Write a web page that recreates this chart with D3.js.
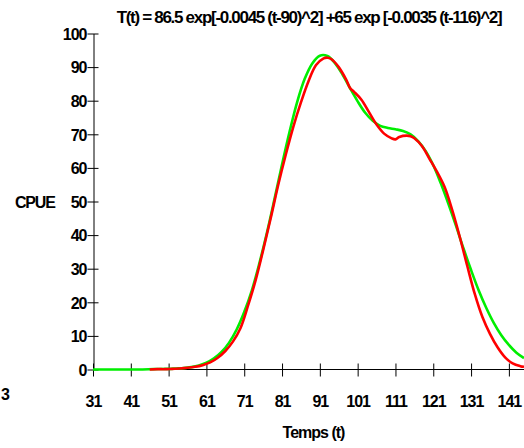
<!DOCTYPE html>
<html><head><meta charset="utf-8">
<script src="https://cdn.jsdelivr.net/npm/d3@7"></script>
<style>body{margin:0;background:#fff}svg{display:block}text{font-family:"Liberation Sans",Arial,sans-serif;font-weight:bold;fill:#000}</style>
</head><body><svg id="c" width="524" height="448"></svg>
<script>
const titleText = "T(t) = 86.5 exp[-0.0045 (t-90)^2] +65 exp [-0.0035 (t-116)^2]";
const xLabel = "Temps (t)";
const yLabel = "CPUE";
const xTicks = [31,41,51,61,71,81,91,101,111,121,131,141];
const yTicks = [0,10,20,30,40,50,60,70,80,90,100];

// Model curve (green)
const modelT = [31,35,39,43,47,51,53,55,57,59,61,63,65,67,69,71,73,75,77,79,81,83,85,87,89,91,93,95,97,99,101,103,105,107,109,111,113,115,117,119,121,123,125,127,129,131,133,135,137,139,141,143,145];
const modelV = [0,0,0,0,0.1,0.2,0.3,0.4,0.7,1.2,2.0,3.3,5.2,8.0,11.9,17.1,23.5,31.6,40.7,50.7,61.0,70.8,79.6,86.5,91.1,93.4,93.3,91.2,87.8,83.7,79.8,76.4,74.0,72.5,71.9,71.5,71.0,70.0,68.0,65.0,60.8,55.4,49.3,42.8,36.0,29.6,23.6,18.4,13.9,10.2,7.3,5.0,3.4];

// Observed curve (red)
const obsT = [46,48,50,52,54,56,58,60,62,64,66,68,70,72,74,76,78,80,82,84,86,88,90,92,93,94,96,98,99,100,102,104,106,108,110,111,112,114,115,116,118,120,122,124,126,128,130,132,134,136,138,140,142,144,145];
const obsV = [0,0.1,0.1,0.2,0.3,0.5,0.8,1.3,2.1,3.5,5.5,8.3,12.3,19.0,26.5,35.5,45.0,55.0,64.0,72.3,79.5,85.8,90.6,92.6,92.8,92.4,90.0,86.2,83.8,82.7,80.3,76.6,72.9,70.2,68.8,68.5,69.2,69.6,69.4,68.8,66.5,62.7,58.8,54.3,47.5,39.5,30.8,22.4,15.6,10.6,6.6,3.6,1.8,1.0,0.8];

const svg = d3.select("#c");
const x = d3.scaleLinear().domain([31,145]).range([93,524]);
const y = d3.scaleLinear().domain([0,100]).range([369.5,33.5]);

// axes
const gx = svg.append("g").attr("transform","translate(0,369.5)")
  .call(d3.axisBottom(x).tickValues(xTicks).tickFormat(d3.format("d")).tickSizeOuter(0));
gx.select(".domain").attr("stroke","#000").attr("d","M93,0H524");
gx.selectAll(".tick line").attr("y1",-6).attr("y2",7).attr("stroke","#000");
gx.selectAll(".tick text").attr("y",37.5).attr("dy",null).attr("font-size",16).attr("letter-spacing",-1)
  .style("font-family","'Liberation Sans',Arial,sans-serif").style("font-weight","bold");

const gy = svg.append("g").attr("transform","translate(93.5,0)")
  .call(d3.axisLeft(y).tickValues(yTicks).tickFormat(d3.format("d")).tickSizeOuter(0));
gy.select(".domain").attr("stroke","#000");
gy.selectAll(".tick line").attr("x1",-6).attr("x2",5).attr("stroke","#000");
gy.selectAll(".tick text").attr("x",-7).attr("dy","0.36em").attr("font-size",16).attr("letter-spacing",-1)
  .style("font-family","'Liberation Sans',Arial,sans-serif").style("font-weight","bold");

// lines
const line = d3.line().x(d=>x(d[0])).y(d=>y(d[1])).curve(d3.curveCatmullRom.alpha(0.5));
svg.append("path").datum(modelT.map((t,i)=>[t,modelV[i]]))
  .attr("d",line).attr("fill","none").attr("stroke","#00ee00").attr("stroke-width",2.6);
svg.append("path").datum(obsT.map((t,i)=>[t,obsV[i]]))
  .attr("d",line).attr("fill","none").attr("stroke","#ff0000").attr("stroke-width",2.6);

// texts
const tt = svg.append("text").attr("y",22.5).attr("font-size",17).attr("letter-spacing",-1.3).text(titleText);
const tw = tt.node().getComputedTextLength();
tt.attr("x", 309 - tw/2);
const xl = svg.append("text").attr("y",438).attr("font-size",16).attr("letter-spacing",-1).text(xLabel);
xl.attr("x", 313.5 - xl.node().getComputedTextLength()/2);
svg.append("text").attr("x",15).attr("y",207.5).attr("font-size",16).attr("letter-spacing",-1.2).text(yLabel);
svg.append("text").attr("x",1).attr("y",400).attr("font-size",16).text("3");
</script></body></html>
